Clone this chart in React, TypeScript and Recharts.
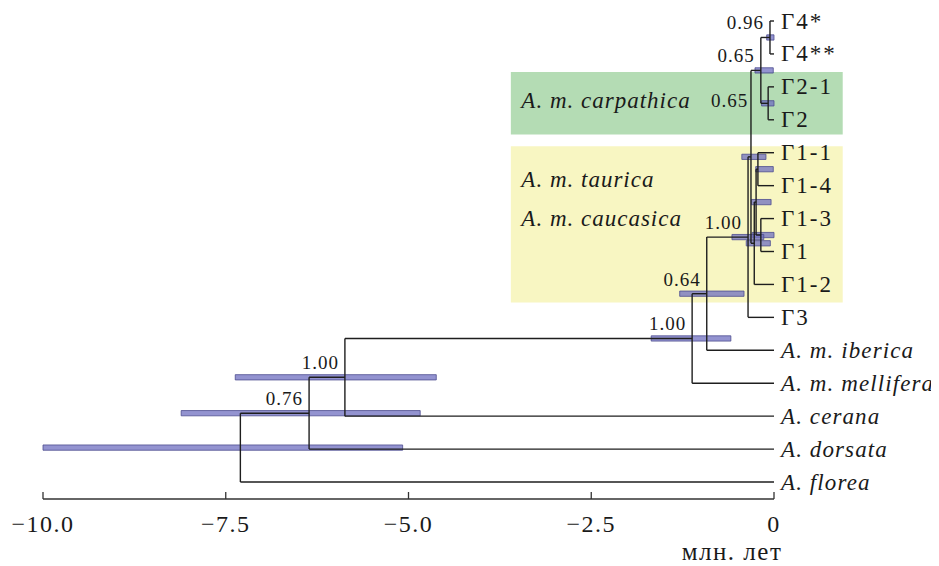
import React from "react";
import { ComposedChart, XAxis, YAxis, ReferenceArea, ReferenceLine, Scatter } from "recharts";

const SERIF = '"Liberation Serif", "Times New Roman", serif';

// tips, top to bottom
const leafNames = [
  "Γ4*", "Γ4**", "Γ2-1", "Γ2", "Γ1-1", "Γ1-4", "Γ1-3", "Γ1", "Γ1-2", "Γ3",
  "A. m. iberica", "A. m. mellifera", "A. cerana", "A. dorsata", "A. florea",
];
const italicLeaves = ["A. m. iberica", "A. m. mellifera", "A. cerana", "A. dorsata", "A. florea"];

// internal nodes in post-order
const nodeIds = ["g4", "g2", "g42", "g11", "g13", "g1a", "g1b", "g1c", "g3", "ib", "mel", "cer", "dor", "root"];
const nodeChildren = [
  ["Γ4*", "Γ4**"],
  ["Γ2-1", "Γ2"],
  ["g4", "g2"],
  ["Γ1-1", "Γ1-4"],
  ["Γ1-3", "Γ1"],
  ["g11", "g13"],
  ["g1a", "Γ1-2"],
  ["g42", "g1b"],
  ["g1c", "Γ3"],
  ["g3", "A. m. iberica"],
  ["ib", "A. m. mellifera"],
  ["mel", "A. cerana"],
  ["cer", "A. dorsata"],
  ["dor", "A. florea"],
];
// node ages, million years
const nodeAges = [-0.055, -0.08, -0.18, -0.22, -0.18, -0.245, -0.27, -0.315, -0.355, -0.92, -1.12, -5.87, -6.36, -7.3];
// posterior probabilities (null = not shown)
const nodePosterior = [0.96, 0.65, 0.65, null, null, null, null, null, 1.0, 0.64, 1.0, 1.0, 0.76, null];
// 95% HPD of node ages
const hpdLow = [-0.1, -0.17, -0.26, -0.25, -0.3, -0.31, -0.38, -0.44, -0.575, -1.29, -1.68, -7.37, -8.11, -10.0];
const hpdHigh = [0.0, 0.0, -0.01, -0.01, 0.0, -0.04, -0.05, -0.11, -0.14, -0.41, -0.59, -4.62, -4.84, -5.08];

const xTicks = [-10, -7.5, -5, -2.5, 0];

// shaded subspecies groups
const cladeLines = [["A. m. carpathica"], ["A. m. taurica", "A. m. caucasica"]];
const cladeFirst = ["Γ2-1", "Γ1-1"];
const cladeLast = ["Γ2", "Γ1-2"];

const cladeStyle = [
  { fill: "#b4dcb4", padTop: 0.45, padBottom: 0.45 },
  { fill: "#f8f6c2", padTop: 0.2, padBottom: 0.55 },
];
const BOX_X: [number, number] = [-3.6, 0.94];
const LINE = "#1e1e1e";

const fmtTick = (v: number) => (v === 0 ? "0" : (v < 0 ? "\u2212" : "") + Math.abs(v).toFixed(1));

export default function App() {
  const yOf: Record<string, number> = {};
  const ageOf: Record<string, number> = {};
  leafNames.forEach((n, i) => {
    yOf[n] = i;
    ageOf[n] = 0;
  });
  nodeIds.forEach((id, i) => {
    const c = nodeChildren[i];
    yOf[id] = (yOf[c[0]] + yOf[c[c.length - 1]]) / 2;
    ageOf[id] = nodeAges[i];
  });

  // elbow branches: one vertical per node, one horizontal per child
  const segments: { x: number; y: number }[][] = [];
  nodeIds.forEach((id, i) => {
    const c = nodeChildren[i];
    const a = ageOf[id];
    segments.push([
      { x: a, y: yOf[c[0]] },
      { x: a, y: yOf[c[c.length - 1]] },
    ]);
    c.forEach((ch) => {
      segments.push([
        { x: a, y: yOf[ch] },
        { x: ageOf[ch], y: yOf[ch] },
      ]);
    });
  });

  const leafPoints = leafNames.map((name, i) => ({ x: 0, y: i, name }));
  const nodePoints = nodeIds
    .map((id, i) => ({ x: nodeAges[i], y: yOf[id], id, post: nodePosterior[i] }))
    .filter((p) => p.post !== null);

  return (
    <div style={{ margin: "-8px 0 0 -8px", width: 939, height: 566, overflow: "visible" }}>
      <style>{"html,body{overflow:hidden}"}</style>
      <ComposedChart
        width={939}
        height={566}
        margin={{ top: 8, right: 165, bottom: 7, left: 43 }}
        style={{ overflow: "visible" }}
      >
        <XAxis
          type="number"
          dataKey="x"
          domain={[-10, 0]}
          ticks={xTicks}
          interval={0}
          tickFormatter={fmtTick}
          height={60}
          axisLine={{ stroke: "#333", strokeWidth: 1.3 }}
          tickLine={{ stroke: "#333", strokeWidth: 1.3 }}
          tickSize={-7}
          tickMargin={23}
          tick={{ fill: "#1a1a1a", fontSize: 24, fontFamily: SERIF, letterSpacing: 1.5 }}
          label={(p: any) => {
            const vb = p.viewBox;
            return (
              <text
                x={vb.x + vb.width - 42}
                y={vb.y + 61}
                textAnchor="middle"
                fontFamily={SERIF}
                fontSize={25}
                letterSpacing={1.5}
                fill="#1a1a1a"
              >
                млн. лет
              </text>
            );
          }}
        />
        <YAxis type="number" dataKey="y" hide reversed domain={[-0.395, 14.516]} />

        {cladeLines.map((lines, k) => (
          <ReferenceArea
            key={"clade" + k}
            x1={BOX_X[0]}
            x2={BOX_X[1]}
            y1={yOf[cladeFirst[k]] - cladeStyle[k].padTop}
            y2={yOf[cladeLast[k]] + cladeStyle[k].padBottom}
            fill={cladeStyle[k].fill}
            fillOpacity={1}
            stroke="none"
            ifOverflow="visible"
            label={(p: any) => {
              const vb = p.viewBox;
              return (
                <g>
                  {lines.map((t, j) => (
                    <text
                      key={t}
                      x={vb.x + 10.5}
                      y={lines.length === 1 ? vb.y + vb.height / 2 + 5 : vb.y + 41 + j * 39}
                      fontFamily={SERIF}
                      fontStyle="italic"
                      fontSize={23}
                      letterSpacing={1}
                      fill="#1a1a1a"
                    >
                      {t}
                    </text>
                  ))}
                </g>
              );
            }}
          />
        ))}

        {segments.map((s, i) => (
          <ReferenceLine key={"seg" + i} segment={s} stroke={LINE} strokeWidth={1.4} ifOverflow="visible" />
        ))}

        {nodeIds.map((id, i) => (
          <ReferenceArea
            key={"hpd" + id}
            x1={hpdLow[i]}
            x2={hpdHigh[i]}
            y1={yOf[id] - 0.08}
            y2={yOf[id] + 0.08}
            fill="#6f6fc0"
            fillOpacity={0.75}
            stroke="#4e4e90"
            strokeOpacity={0.8}
            strokeWidth={1}
            ifOverflow="visible"
          />
        ))}

        <Scatter
          data={leafPoints}
          isAnimationActive={false}
          shape={(p: any) => {
            const italic = italicLeaves.includes(p.payload.name);
            return (
              <text
                x={p.cx + 7}
                y={p.cy + 7.5}
                fontFamily={SERIF}
                fontSize={23}
                fontStyle={italic ? "italic" : "normal"}
                letterSpacing={italic ? 1.1 : 2}
                fill="#1a1a1a"
              >
                {p.payload.name}
              </text>
            );
          }}
        />
        <Scatter
          data={nodePoints}
          isAnimationActive={false}
          shape={(p: any) => {
            const side = p.payload.id === "g2";
            return (
              <text
                x={side ? p.cx - 20 : p.cx - 6}
                y={side ? p.cy + 4 : p.cy - 8}
                textAnchor="end"
                fontFamily={SERIF}
                fontSize={19}
                letterSpacing={1}
                fill="#1a1a1a"
              >
                {p.payload.post.toFixed(2)}
              </text>
            );
          }}
        />
      </ComposedChart>
    </div>
  );
}
